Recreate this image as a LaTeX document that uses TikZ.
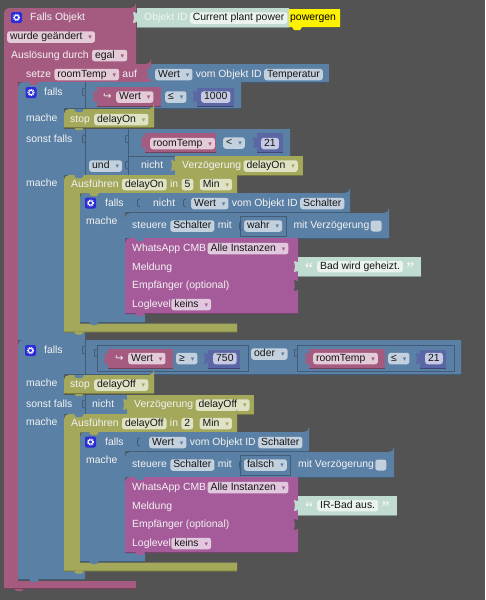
\documentclass[tikz,border=0pt]{standalone}
\usepackage{fontspec}
\setmainfont{Liberation Sans}
\newfontfamily\dejavu{DejaVu Sans}
\newfontfamily\serifq{Liberation Serif}
\usetikzlibrary{positioning, fit}
\definecolor{bgrey}{HTML}{535353}
\definecolor{cpink}{HTML}{A55B80}
\definecolor{cblue}{HTML}{5B80A5}
\definecolor{colive}{HTML}{A3A85B}
\definecolor{cmint}{HTML}{C0DCD0}
\definecolor{cindigo}{HTML}{5B67A5}
\definecolor{cviolet}{HTML}{A55B99}
\definecolor{cicon}{HTML}{2B2BD8}
\definecolor{chipink}{HTML}{E4CBD8}
\definecolor{chipblue}{HTML}{C3D0DE}
\definecolor{chipolive}{HTML}{DFE2C4}
\definecolor{chipmint}{HTML}{EAF3EE}
\definecolor{chipindigo}{HTML}{C6CAE2}
\definecolor{chipviolet}{HTML}{E2C8DE}
\definecolor{ink}{HTML}{151515}
\definecolor{paper}{HTML}{F3F3F3}
\newcommand{\dd}[1]{\hspace{6pt}{\dejavu\fontsize{7}{7}\selectfont\textcolor{#1}{▾}}\hspace{2pt}}
% puzzle tab on the left edge of a value block
\newcommand{\tabl}[3]{\fill[#1, rounded corners=.6pt] (#2,#3) -- ++(-4,-1) -- ++(1,5.5) -- ++(-1,5.5) -- ++(4,-1) -- cycle;}
% empty input on a row
\newcommand{\sockt}[2]{\draw[sockline] (#1,#2) -- ++(-2.5,1) -- ++(0,6) -- ++(2.5,1);}
\newcommand{\bump}[3]{\fill[#1, rounded corners=.8pt] (#2,#3) -- ++(2,3) -- ++(6,0) -- ++(2,-3) -- cycle;}
\newcommand{\gearicon}[3]{
  \node[gearbox] (#1) at (#2,#3) {};
  \draw[white, line width=.9pt] (#1.center) circle (2.1pt);
  \draw[white, line width=1.1pt, dash pattern=on .9pt off .9pt] (#1.center) circle (3.1pt);
}
% the timer block with its rail, the switch block and the message block
\newcommand{\runblock}[9]{
  \begin{scope}[shift={(0,#2)}, name prefix=#1-]
    \path[oliveb] (237,175) -- (237,193) -- (80,193) -- (80,323.5) -- (237,323.5) -- (237,331.5) -- (64,331.5) [rounded corners=5pt] -- (64,175) -- (237,175) [sharp corners] -- cycle;
    \bump{cblue}{74}{175}
    \node[lbl, anchor=west] (run) at (71,184.5) {Ausführen};
    \node[chipo, right=of run] (delay) {#3};
    \node[lbl, right=of delay] (in) {in};
    \node[chipo, right=of in] (time) {#4};
    \node[chipo, right=6pt of time] (unit) {Min\dd{colive}};
    \path[blueb] (#5,193) -- (#5,212) -- (125,212) -- (125,313) -- (145,313) -- (145,322) -- (80,322) [rounded corners=5pt] -- (80,193) -- (#5,193) [sharp corners] -- cycle;
    \bump{colive}{89}{193}
    \gearicon{gear}{90.5}{203}
    \node[lbl, anchor=west] (falls) at (105,203.5) {falls};
    \node[lbl, anchor=west] (mache) at (86,222) {mache};
    \path[blueb] (#7,213) -- (#7,238) -- (125,238) [rounded corners=5pt] -- (125,213) -- (#7,213) [sharp corners] -- cycle;
    \bump{cblue}{135}{213}
    \node[lbl, anchor=west] (set) at (132,226) {steuere};
    \node[chipb, right=of set] (switch) {Schalter};
    \node[lbl, right=of switch] (with) {mit};
    \node[chipb, right=12pt of with] (bool) {#6\dd{cblue}};
    \node[valbox, fit=(bool)] (boolbox) {};
    \sockt{242}{222}
    \node[lbl, right=11pt of bool] (lag) {mit Verzögerung};
    \node[checkb, right=1pt of lag] (check) {};
    \path[violetb] (298,238) -- (298,313) -- (125,313) [rounded corners=5pt] -- (125,238) [sharp corners] -- (298,238) -- cycle;
    \bump{cblue}{135}{238}
    \bump{cviolet}{135}{313}
    \node[lbl, anchor=west] (whats) at (132,248.5) {WhatsApp CMB};
    \node[chipv, right=1pt of whats] (inst) {Alle Instanzen\dd{cviolet}};
    \node[lbl, anchor=west] (msg) at (132,267.5) {Meldung};
    \node[lbl, anchor=west] (recv) at (132,286) {Empfänger (optional)};
    \node[lbl, anchor=west] (lev) at (132,304.5) {Loglevel};
    \node[chipv, right=0pt of lev] (keins) {keins\dd{cviolet}};
    \fill[bgrey, rounded corners=.6pt] (298,281) -- ++(-4,-1) -- ++(1,5.5) -- ++(-1,5.5) -- ++(4,-1) -- cycle;
    \path[mintb] (298,257) rectangle (#9,276);
    \tabl{cmint}{298}{262}
    \node[quot, anchor=west] (open) at (305,271) {“};
    \node[chipm, anchor=west] (text) at (317,266.5) {#8};
    \node[quot, anchor=west] (close) at ([xshift=3pt, yshift=-4.5pt]text.east) {”};
  \end{scope}
}
\begin{document}
\begin{tikzpicture}[
  x=1pt, y=-1pt,
  node distance=3pt,
  lbl/.style={inner sep=0pt, text=paper, text height=7.6pt, text depth=2.4pt, font=\fontsize{10.4}{12}\selectfont},
  chip/.style={inner xsep=3pt, inner ysep=0pt, rounded corners=2.5pt, minimum height=11.5pt, text=ink, text height=7.6pt, text depth=2.4pt, font=\fontsize{10.4}{12}\selectfont},
  chipp/.style={chip, fill=chipink},
  chipb/.style={chip, fill=chipblue},
  chipo/.style={chip, fill=chipolive},
  chipm/.style={chip, fill=chipmint},
  chipn/.style={chip, fill=chipindigo},
  chipv/.style={chip, fill=chipviolet},
  quot/.style={inner sep=0pt, text=paper, text height=7.6pt, text depth=2.4pt, font=\serifq\fontsize{16}{16}\selectfont\bfseries},
  pinkb/.style={fill=cpink, preaction={fill=cpink!70!black, transform canvas={shift={(0pt,-1pt)}}}},
  blueb/.style={fill=cblue, preaction={fill=cblue!70!black, transform canvas={shift={(0pt,-1pt)}}}},
  oliveb/.style={fill=colive, preaction={fill=colive!70!black, transform canvas={shift={(0pt,-1pt)}}}},
  mintb/.style={fill=cmint, preaction={fill=cmint!70!black, transform canvas={shift={(0pt,-1pt)}}}},
  indigob/.style={fill=cindigo, preaction={fill=cindigo!70!black, transform canvas={shift={(0pt,-1pt)}}}},
  violetb/.style={fill=cviolet, preaction={fill=cviolet!70!black, transform canvas={shift={(0pt,-1pt)}}}},
  sockline/.style={draw=cblue!72!black, line width=.8pt},
  valbox/.style={draw=cblue!72!black, line width=.7pt, inner xsep=3.5pt, inner ysep=4pt},
  checkb/.style={fill=chipblue, rounded corners=2.5pt, minimum size=11pt, inner sep=0pt},
  gearbox/.style={fill=cicon, rounded corners=2pt, minimum size=11pt, inner sep=0pt}
]
  \fill[bgrey] (0,0) rectangle (485,600);
  \useasboundingbox (0,0) rectangle (485,600);

  % trigger block
  \bump{cpink}{14}{588}
  \path[pinkb] (136,8) -- (136,64) -- (18,64) -- (18,581) -- (136,581) -- (136,588) -- (4,588) [rounded corners=5pt] -- (4,8) -- (136,8) [sharp corners] -- cycle;
  \gearicon{topgear}{16.5}{17.5}
  \node[lbl, anchor=west] (trigger) at (30,17.5) {Falls Objekt};
  \node[chipp, anchor=west] (changed) at (7,37) {wurde geändert\dd{cpink}};
  \node[lbl, anchor=west] (cause) at (11,55.5) {Auslösung durch};
  \node[chipp, right=of cause] (any) {egal\dd{cpink}};

  % object id with its comment
  \path[mintb] (137,8) rectangle (289,27);
  \tabl{cmint}{137}{13}
  \node[lbl, anchor=west] (objid) at (144,18) {Objekt ID};
  \node[chipm, right=2pt of objid] (plant) {Current plant power};
  \fill[yellow] (289,9) -- (340,9) -- (340,27) -- (302,27) -- (300,30) -- (294,30) -- (292,27) -- (289,27) -- cycle;
  \node[lbl, text=black, anchor=west] (powergen) at (290,18) {powergen};

  % set variable
  \path[pinkb] (151,64) -- (151,82) -- (18,82) -- (18,64) [rounded corners=5pt] -- (151,64) [sharp corners] -- cycle;
  \node[lbl, anchor=west] (setvar) at (26,74.5) {setze};
  \node[chipp, right=of setvar] (room) {roomTemp\dd{cpink}};
  \node[lbl, right=of room] (onto) {auf};
  \path[blueb] (151,64) rectangle (329,82);
  \tabl{cblue}{151}{69}
  \node[chipb, anchor=west] (value) at (155,74.5) {Wert\dd{cblue}};
  \node[lbl, right=of value] (fromid) {vom Objekt ID};
  \node[chipb, right=2pt of fromid] (temp) {Temperatur};

  % first if
  \path[blueb] (241,82) -- (241,108) -- (64,108) -- (64,129) -- (290,129) -- (290,156) -- (175,156) -- (175,175) -- (64,175) -- (64,331) -- (85,331) -- (85,340) -- (18,340) [rounded corners=5pt] -- (18,82) -- (241,82) [sharp corners] -- cycle;
  \bump{cpink}{29}{82}
  \draw[sockline] (85,82) -- (85,108) -- (241,108);
  \gearicon{gearone}{31}{92.5}
  \node[lbl, anchor=west] (fallsone) at (44,93) {falls};
  \sockt{85}{88}
  \path[pinkb] (97,87) rectangle (161,106);
  \tabl{cpink}{97}{92}
  \node[lbl, anchor=west, font=\dejavu\fontsize{10}{10}\selectfont] (hookone) at (103,97) {↪};
  \node[chipp, anchor=west] (wertone) at (116,97) {Wert\dd{cpink}};
  \node[chipb, anchor=west] (leone) at (165,97) {≤\dd{cblue}};
  \path[indigob] (197,88) rectangle (234,106);
  \tabl{cindigo}{197}{92}
  \node[chipn, anchor=west] (kilo) at (201,97) {1000};

  \node[lbl, anchor=west] (macheone) at (26,119) {mache};
  \bump{colive}{74}{127}
  \path[oliveb] (154,109) -- (154,127) -- (64,127) [rounded corners=5pt] -- (64,109) -- (154,109) [sharp corners] -- cycle;
  \bump{cblue}{74}{109}
  \node[lbl, anchor=west] (stopone) at (70,119.5) {stop};
  \node[chipo, anchor=west] (delayon) at (94,119.5) {delayOn\dd{colive}};

  \node[lbl, anchor=west] (sonstone) at (26,140) {sonst falls};
  \draw[sockline] (85,129) -- (85,175);
  \draw[sockline] (128,129) -- (128,175);
  \draw[sockline] (128,156) -- (290,156);
  \sockt{85}{135}
  \sockt{128}{135}
  \path[pinkb] (145,133) rectangle (216,152);
  \tabl{cpink}{145}{138}
  \node[chipp, anchor=west] (roomone) at (150,143.5) {roomTemp\dd{cpink}};
  \node[chipb, anchor=west] (ltone) at (223,143) {<\dd{cblue}};
  \path[indigob] (257,133) rectangle (283,152);
  \tabl{cindigo}{257}{138}
  \node[chipn, anchor=west] (tempone) at (261,143.5) {21};
  \node[chipb, anchor=west] (und) at (89,166) {und\dd{cblue}};
  \sockt{128}{161}
  \node[lbl, anchor=west] (nichtone) at (141,166) {nicht};
  \path[oliveb] (175,156) rectangle (303,174.5);
  \tabl{colive}{175}{161}
  \node[lbl, anchor=west] (waitone) at (182,166) {Verzögerung};
  \node[chipo, right=2pt of waitone] (delayonb) {delayOn\dd{colive}};
  \node[lbl, anchor=west] (macheonb) at (26,184) {mache};

  \runblock{a}{0}{delayOn}{5}{350}{wahr}{389}{Bad wird geheizt.}{421}
  \sockt{140}{199}
  \node[lbl, anchor=west] (nichttwo) at (153,203.5) {nicht};
  \sockt{186}{199}
  \node[chipb, anchor=west] (wertrun) at (191,203.5) {Wert\dd{cblue}};
  \node[lbl, right=of wertrun] (fromrun) {vom Objekt ID};
  \node[chipb, right=2pt of fromrun] (switchrun) {Schalter};
  \bump{cblue}{89}{322}
  \bump{colive}{74}{331.5}

  % second if
  \path[blueb] (461,340) -- (461,374) -- (64,374) -- (64,395) -- (127,395) -- (127,414) -- (64,414) -- (64,570) -- (85,570) -- (85,579) -- (18,579) [rounded corners=5pt] -- (18,340) [sharp corners] -- (461,340) -- cycle;
  \bump{cblue}{29}{579}
  \draw[sockline] (85,340) -- (85,374);
  \gearicon{geartwo}{30.5}{350.5}
  \node[lbl, anchor=west] (fallstwo) at (44,351) {falls};
  \sockt{85}{346}
  \draw[sockline] (97,345) rectangle (248,371);
  \draw[sockline] (297,345) rectangle (454,371);
  \sockt{97}{349}
  \sockt{297}{349}
  \path[pinkb] (108,349) rectangle (173,368);
  \tabl{cpink}{108}{354}
  \node[lbl, anchor=west, font=\dejavu\fontsize{10}{10}\selectfont] (hooktwo) at (115,358.5) {↪};
  \node[chipp, anchor=west] (werttwo) at (128,358.5) {Wert\dd{cpink}};
  \node[chipb, anchor=west] (getwo) at (176,358.5) {≥\dd{cblue}};
  \path[indigob] (208,350) rectangle (240,368);
  \tabl{cindigo}{208}{354}
  \node[chipn, anchor=west] (limit) at (213,358.5) {750};
  \node[chipb, anchor=west] (oder) at (251,354) {oder\dd{cblue}};
  \path[pinkb] (309,349) rectangle (385,368);
  \tabl{cpink}{309}{354}
  \node[chipp, anchor=west] (roomtwo) at (313,358.5) {roomTemp\dd{cpink}};
  \node[chipb, anchor=west] (letwo) at (388,358.5) {≤\dd{cblue}};
  \path[indigob] (420,350) rectangle (446,368);
  \tabl{cindigo}{420}{354}
  \node[chipn, anchor=west] (temptwo) at (425,358.5) {21};

  \node[lbl, anchor=west] (machetwo) at (26,384) {mache};
  \bump{colive}{74}{393}
  \path[oliveb] (154,375) -- (154,393) -- (64,393) [rounded corners=5pt] -- (64,375) -- (154,375) [sharp corners] -- cycle;
  \bump{cblue}{74}{375}
  \node[lbl, anchor=west] (stoptwo) at (70,385) {stop};
  \node[chipo, anchor=west] (delayoff) at (94,385) {delayOff\dd{colive}};
  \node[lbl, anchor=west] (sonsttwo) at (26,405) {sonst falls};
  \draw[sockline] (85,395) -- (85,414);
  \sockt{85}{400}
  \node[lbl, anchor=west] (nichtthree) at (92,405) {nicht};
  \path[oliveb] (127,395) rectangle (254,414);
  \tabl{colive}{127}{400}
  \node[lbl, anchor=west] (waittwo) at (134,405) {Verzögerung};
  \node[chipo, right=2pt of waittwo] (delayoffb) {delayOff\dd{colive}};
  \node[lbl, anchor=west] (machetwb) at (26,423) {mache};

  \runblock{b}{239}{delayOff}{2}{309}{falsch}{394}{IR-Bad aus.}{397}
  \sockt{140}{438}
  \node[chipb, anchor=west] (wertrunb) at (149,442.5) {Wert\dd{cblue}};
  \node[lbl, right=of wertrunb] (fromrunb) {vom Objekt ID};
  \node[chipb, right=2pt of fromrunb] (switchrunb) {Schalter};
  \bump{cblue}{89}{561}
  \bump{colive}{74}{570.5}
\end{tikzpicture}
\end{document}
